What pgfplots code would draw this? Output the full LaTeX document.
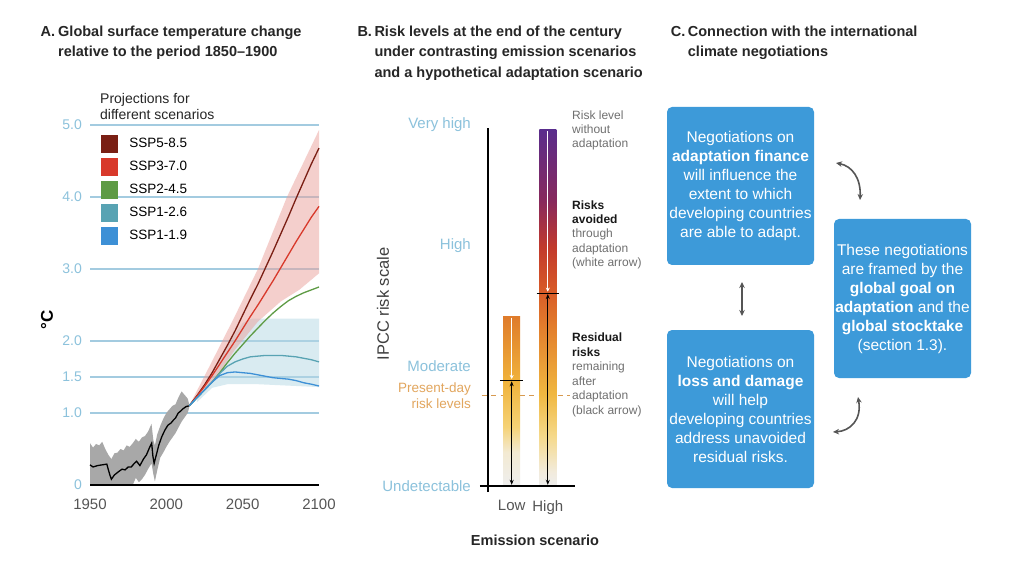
\documentclass[border=0pt]{standalone}
\usepackage{fontspec}
\setmainfont{Liberation Sans}
\usepackage{pgfplots}
\pgfplotsset{compat=1.18}
\usetikzlibrary{arrows.meta}

\newcommand{\fs}[2]{\fontsize{#1}{#2}\selectfont}

\definecolor{gridblue}{HTML}{A3CBE0}
\definecolor{tickblue}{HTML}{8CC2DC}
\definecolor{ticktext}{HTML}{555555}
\definecolor{sspA}{HTML}{7A1F14}
\definecolor{sspB}{HTML}{D8392B}
\definecolor{sspC}{HTML}{5E9B45}
\definecolor{sspD}{HTML}{58A3B3}
\definecolor{sspE}{HTML}{3D90D6}
\definecolor{pinkband}{HTML}{EBA09A}
\definecolor{blueband}{HTML}{B5D8E5}
\definecolor{greyband}{HTML}{A8A8A8}
\definecolor{boxblue}{HTML}{3D9AD9}
\definecolor{presorange}{HTML}{E2A65E}
\definecolor{dashorange}{HTML}{D79A50}
\definecolor{annot}{HTML}{707070}
\definecolor{arrowgrey}{HTML}{555555}
\definecolor{hb0}{HTML}{EEEEEE}
\definecolor{hb1}{HTML}{F2EBDC}
\definecolor{hb2}{HTML}{F5D98A}
\definecolor{hb3}{HTML}{F0B740}
\definecolor{hb4}{HTML}{E27D2C}
\definecolor{hb5}{HTML}{D85A28}
\definecolor{hb6}{HTML}{C23A2C}
\definecolor{hb7}{HTML}{88295C}
\definecolor{hb8}{HTML}{5A2D8C}
\definecolor{lb1}{HTML}{F3EAD2}
\definecolor{lb2}{HTML}{F5D275}
\definecolor{lb3}{HTML}{F0B23A}
\definecolor{lb4}{HTML}{DF7B2B}

\pgfdeclareverticalshading{highbar}{100bp}{color(0bp)=(hb0); color(25bp)=(hb0); color(27bp)=(hb1); color(32bp)=(hb2); color(38bp)=(hb3); color(47.5bp)=(hb4); color(52.5bp)=(hb5); color(58.5bp)=(hb6); color(65bp)=(hb7); color(75bp)=(hb8); color(100bp)=(hb8)}
\pgfdeclareverticalshading{lowbar}{100bp}{color(0bp)=(hb0); color(25bp)=(hb0); color(35bp)=(lb1); color(42.5bp)=(lb2); color(56bp)=(lb3); color(75bp)=(lb4); color(100bp)=(lb4)}

\begin{document}
\begin{tikzpicture}
\begin{scope}[shift={(0pt,560pt)}, x=1pt, y=-1pt]
\fill[white] (0,0) rectangle (1024,560);
\useasboundingbox (0,0) rectangle (1024,560);

% ---------- titles
\begin{scope}[every node/.style={anchor=base west, inner sep=0pt, font=\bfseries\fs{14.5}{17}, text=black!85}]
\node at (40.5,37) {A.};
\node at (58,37) {Global surface temperature change};
\node at (58,57) {relative to the period 1850--1900};
\node at (357.3,37) {B.};
\node at (374.3,37) {Risk levels at the end of the century};
\node at (374.3,57) {under contrasting emission scenarios};
\node at (374.3,77.3) {and a hypothetical adaptation scenario};
\node at (670.7,37) {C.};
\node at (687.7,37) {Connection with the international};
\node at (687.7,56.5) {climate negotiations};
\end{scope}

\node[anchor=base west, inner sep=0pt, font=\fs{14}{16}, text=black!85] at (100,104) {Projections for};
\node[anchor=base west, inner sep=0pt, font=\fs{14}{16}, text=black!85] at (100,119.5) {different scenarios};
\node[rotate=90, inner sep=0pt, font=\bfseries\fs{17}{19}] at (47,320) {°C};

\node[rotate=90, inner sep=0pt, font=\fs{16.5}{18}, text=black!75] at (383,304) {IPCC risk scale};
\node[anchor=base, inner sep=0pt, font=\bfseries\fs{14.5}{17}, text=black!85] at (535,545) {Emission scenario};

\begin{scope}[every node/.style={anchor=base west, inner sep=0pt, font=\fs{12}{14}, text=annot}]
\node at (572,119.3) {Risk level};
\node at (572,133.3) {without};
\node at (572,147.3) {adaptation};
\node[font=\bfseries\fs{12}{14}, text=black!90] at (572,209.3) {Risks};
\node[font=\bfseries\fs{12}{14}, text=black!90] at (572,223.5) {avoided};
\node at (572,238) {through};
\node at (572,252.3) {adaptation};
\node at (572,266.7) {(white arrow)};
\node[font=\bfseries\fs{12}{14}, text=black!90] at (572,341.7) {Residual};
\node[font=\bfseries\fs{12}{14}, text=black!90] at (572,356) {risks};
\node at (572,370.7) {remaining};
\node at (572,385) {after};
\node at (572,399.3) {adaptation};
\node at (572,414) {(black arrow)};
\end{scope}

% ---------- panel C
\tikzset{cbox/.style={fill=boxblue, rounded corners=5pt, text=white, align=center, inner sep=0pt, font=\fs{15.5}{19}}}
\node[cbox, minimum width=147pt, minimum height=158pt] at (740.5,186) {Negotiations on\\\textbf{adaptation finance}\\will influence the\\extent to which\\developing countries\\are able to adapt.};
\node[cbox, minimum width=147pt, minimum height=158pt] at (740.5,409) {Negotiations on\\\textbf{loss and damage}\\will help\\developing countries\\address unavoided\\residual risks.};
\node[cbox, minimum width=137pt, minimum height=159pt] at (902.5,298.5) {These negotiations\\are framed by the\\\textbf{global goal on}\\\textbf{adaptation} and the\\\textbf{global stocktake}\\(section 1.3).};
\begin{scope}[arrowgrey, line width=1.6pt, {Stealth[length=6pt,width=5.5pt]}-{Stealth[length=6pt,width=5.5pt]}]
\draw (836,163) .. controls (852,166) and (861,178) .. (860,200);
\draw (742,282) -- (742,316);
\draw (858,397) .. controls (862,420) and (850,431) .. (833,432);
\end{scope}
\end{scope}

% ---------- panel A
\begin{axis}[
  at={(90pt,75pt)}, anchor=south west, scale only axis,
  width=229pt, height=360pt,
  xmin=1950, xmax=2100, ymin=0, ymax=5,
  axis x line*=bottom, axis y line*=left,
  axis line style={draw=none},
  xtick={1950,2000,2050,2100}, xticklabels={1950,2000,2050,2100},
  ytick={0,1,1.5,2,3,4,5}, yticklabels={0,1.0,1.5,2.0,3.0,4.0,5.0},
  major tick length=0pt, tick style={draw=none},
  ymajorgrids, grid style={gridblue, line width=1.2pt},
  xticklabel style={font=\fs{15}{18}, text=ticktext, anchor=north, inner sep=0pt, yshift=-13.5pt},
  yticklabel style={font=\fs{14}{17}, text=tickblue, anchor=east, inner sep=0pt, xshift=-8pt},
  clip=false,
  legend style={at={(axis cs:1956.9,4.861)}, anchor=north west, draw=none, fill=none,
    inner sep=0pt, outer sep=0pt, row sep=5.2pt, font=\fs{13.5}{16},
    nodes={inner sep=0pt},
    /tikz/every odd column/.append style={column sep=11pt}},
  legend cell align=left,
  legend image code/.code={\fill[#1] (0pt,-8.25pt) rectangle (16.5pt,8.25pt);},
]
% bands
\addplot[forget plot, draw=none, fill=blueband, fill opacity=0.5] coordinates {
 (2020,1.18) (2030,1.55) (2040,1.95) (2050,2.25) (2056,2.31) (2100,2.31)
 (2100,1.36) (2080,1.38) (2060,1.40) (2040,1.40) (2030,1.35) (2020,1.15)} -- cycle;
\addplot[forget plot, draw=none, fill=pinkband, fill opacity=0.5] coordinates {
 (2015,1.10) (2030,1.72) (2045,2.35) (2060,3.0) (2079,4.0) (2100,4.93)
 (2100,2.94) (2087,2.71) (2075,2.55) (2060,2.27) (2045,1.88) (2030,1.42) (2015,1.10)} -- cycle;
\addplot[forget plot, draw=none, fill=greyband] coordinates {
 (1950,0.58) (1952,0.52) (1954,0.57) (1956,0.55) (1958,0.6) (1960,0.5) (1962,0.42) (1964,0.36)
 (1966,0.44) (1968,0.45) (1970,0.5) (1972,0.48) (1974,0.55) (1976,0.53) (1978,0.58) (1980,0.64)
 (1982,0.6) (1984,0.66) (1986,0.68) (1988,0.74) (1990.3,0.85) (1991.5,0.62) (1992.5,0.55) (1994,0.7)
 (1996,0.82) (1998,0.92) (2000,1.0) (2002,1.05) (2004,1.1) (2006,1.12) (2008,1.22) (2010,1.3)
 (2012,1.25) (2014,1.2) (2015,1.12)
 (2015,1.08) (2014,1.0) (2012,0.94) (2010,0.88) (2008,0.8) (2006,0.72) (2004,0.66) (2002,0.6)
 (2000,0.53) (1998,0.45) (1996,0.38) (1994,0.2) (1992.5,0.05) (1991.5,0.15) (1990.3,0.3) (1988,0.22)
 (1986,0.14) (1984,0.08) (1982,0.04) (1980,0.1) (1978,0.0) (1950,0.0)} -- cycle;
% historical
\addplot[forget plot, black, line width=1.3pt] coordinates {
 (1950,0.28) (1952,0.25) (1955,0.27) (1958,0.28) (1961,0.29) (1963,0.14) (1964,0.08) (1966,0.14)
 (1969,0.19) (1971,0.22) (1973,0.21) (1975,0.25) (1977,0.25) (1979,0.30) (1980.5,0.33) (1982.7,0.27)
 (1985,0.36) (1987,0.42) (1989,0.52) (1990.4,0.58) (1991.2,0.40) (1992,0.30) (1993.7,0.44) (1995,0.55)
 (1997,0.67) (1999,0.76) (2001,0.83) (2003,0.86) (2004.6,0.90) (2006,0.93) (2007.8,1.0) (2009,1.02)
 (2011,1.06) (2013,1.09) (2015,1.10)};
% projections
\addplot[sspA, line width=1.3pt] coordinates {
 (2015,1.10) (2020,1.24) (2025,1.39) (2030,1.56) (2035,1.75) (2040,1.94) (2045,2.14) (2050,2.36)
 (2055,2.58) (2060,2.79) (2065,3.02) (2070,3.25) (2075,3.49) (2080,3.73) (2085,3.98) (2090,4.22)
 (2095,4.46) (2100,4.68)};
\addlegendentry{SSP5-8.5}
\addplot[sspB, line width=1.3pt] coordinates {
 (2015,1.10) (2020,1.23) (2025,1.37) (2030,1.52) (2035,1.68) (2040,1.84) (2045,2.0) (2050,2.17)
 (2055,2.34) (2060,2.5) (2065,2.67) (2070,2.84) (2075,3.02) (2080,3.2) (2085,3.38) (2090,3.55)
 (2095,3.72) (2100,3.87)};
\addlegendentry{SSP3-7.0}
\addplot[sspC, line width=1.3pt] coordinates {
 (2015,1.10) (2020,1.21) (2025,1.32) (2030,1.43) (2035,1.56) (2040,1.70) (2045,1.83) (2050,1.95)
 (2055,2.07) (2060,2.18) (2065,2.29) (2070,2.39) (2075,2.48) (2080,2.56) (2085,2.62) (2090,2.67)
 (2095,2.71) (2100,2.75)};
\addlegendentry{SSP2-4.5}
\addplot[sspD, line width=1.3pt] coordinates {
 (2015,1.10) (2020,1.21) (2025,1.32) (2030,1.43) (2035,1.55) (2040,1.65) (2045,1.71) (2050,1.75)
 (2055,1.78) (2060,1.79) (2065,1.80) (2070,1.80) (2075,1.80) (2080,1.79) (2085,1.78) (2090,1.76)
 (2095,1.74) (2100,1.71)};
\addlegendentry{SSP1-2.6}
\addplot[sspE, line width=1.3pt] coordinates {
 (2015,1.10) (2020,1.21) (2025,1.32) (2030,1.43) (2035,1.52) (2040,1.56) (2045,1.57) (2050,1.56)
 (2055,1.55) (2060,1.53) (2065,1.51) (2070,1.49) (2075,1.48) (2080,1.47) (2085,1.45) (2090,1.42)
 (2095,1.40) (2100,1.375)};
\addlegendentry{SSP1-1.9}
\draw[black, line width=2.5pt] (axis cs:1950,0) -- (axis cs:2100,0);
\end{axis}

% ---------- panel B
\begin{axis}[
  at={(488pt,74pt)}, anchor=south west, scale only axis,
  width=86.86pt, height=361pt,
  xmin=0.344, xmax=2.75, ymin=0, ymax=3,
  axis x line*=bottom, axis y line*=left,
  axis line style={draw=none},
  major tick length=0pt, tick style={draw=none},
  xtick={1,2}, xticklabels={Low,High},
  ytick={0,1,2,3}, yticklabels={Undetectable,Moderate,High,Very high},
  extra y ticks={0.75}, extra y tick labels={{Present-day\\risk levels}},
  extra y tick style={yticklabel style={text=presorange, align=right, font=\fs{13.5}{15.6}}},
  yticklabel style={font=\fs{15}{18}, text=tickblue, anchor=east, inner sep=0pt, xshift=-17pt},
  xticklabel style={font=\fs{15}{18}, text=ticktext, anchor=north, inner sep=0pt, yshift=-14pt},
  clip=false,
]
\addplot[color=dashorange, line width=1.3pt, dash pattern=on 5pt off 4.5pt] coordinates {(0.17,0.75) (2.61,0.75)};
\addplot[draw=none, shade, shading=lowbar] coordinates {(0.765,0) (0.765,1.41) (1.235,1.41) (1.235,0)} -- cycle;
\addplot[draw=none, shade, shading=highbar] coordinates {(1.765,0) (1.765,2.96) (2.235,2.96) (2.235,0)} -- cycle;
\addplot[white, line width=0.8pt, -{Stealth[length=4pt,width=4pt]}] coordinates {(1,1.40) (1,0.89)};
\addplot[white, line width=0.8pt, -{Stealth[length=4pt,width=4pt]}] coordinates {(2,2.95) (2,1.615)};
\addplot[black, line width=0.9pt, {Stealth[length=5pt,width=4pt]}-{Stealth[length=5pt,width=4pt]}] coordinates {(1,0.87) (1,0.01)};
\addplot[black, line width=0.9pt, {Stealth[length=5pt,width=4pt]}-{Stealth[length=5pt,width=4pt]}] coordinates {(2,1.595) (2,0.01)};
\addplot[black, line width=1.2pt] coordinates {(0.674,0.875) (1.31,0.875)};
\addplot[black, line width=1.2pt] coordinates {(1.69,1.60) (2.31,1.60)};
\draw[black, line width=1.8pt] (axis cs:0.344,-0.05) -- (axis cs:0.344,2.975);
\draw[black, line width=1.8pt] (axis cs:0.122,0) -- (axis cs:2.75,0);
\end{axis}
\end{tikzpicture}
\end{document}
